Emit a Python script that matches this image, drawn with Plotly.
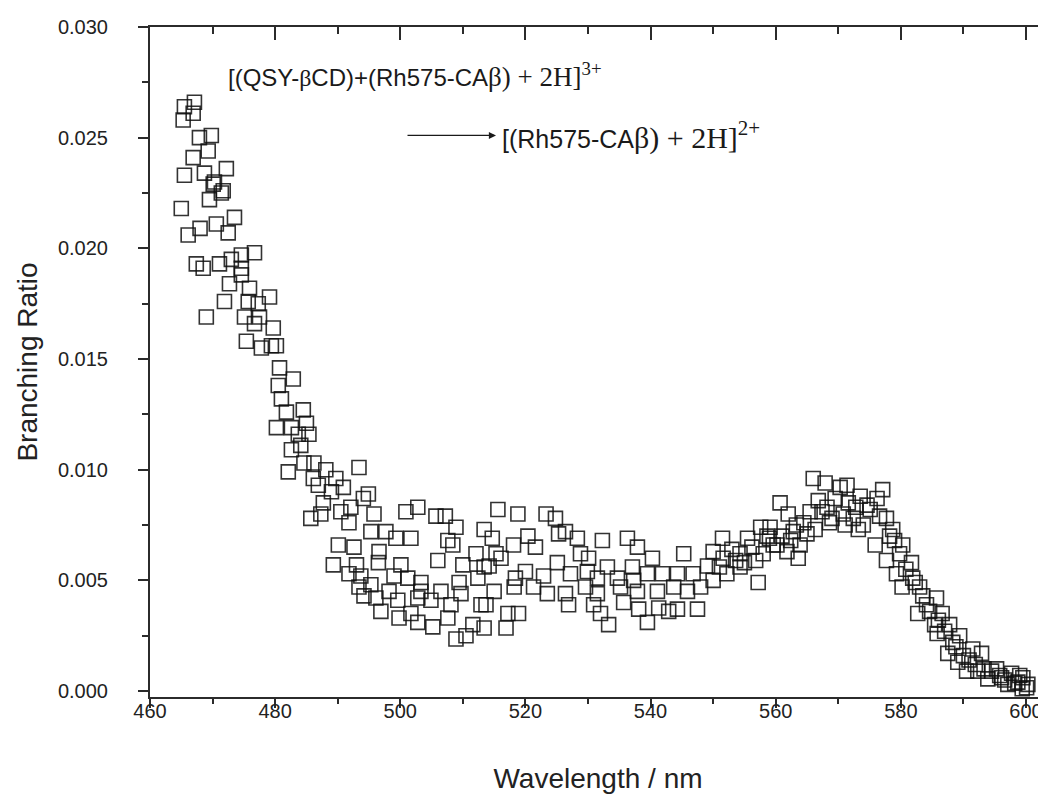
import plotly.graph_objects as go

# wavelength (nm) and branching ratio
wavelength = [
    465.0, 465.3, 465.5, 465.5, 466.1, 466.9, 466.9, 467.1, 467.4, 467.9,
    468.0, 468.5, 468.7, 469.0, 469.3, 469.5, 469.8, 470.1, 470.3, 470.6,
    471.1, 471.4, 471.7, 471.9, 472.2, 472.5, 472.7, 473.0, 473.5, 474.6,
    474.6, 474.6, 475.1, 475.4, 475.7, 475.9, 476.7, 476.7, 477.3, 477.5,
    477.8, 479.1, 479.4, 479.7, 480.2, 480.2, 480.5, 480.7, 481.0, 481.8,
    482.1, 482.6, 482.6, 482.9, 483.7, 484.1, 484.5, 484.6, 485.0, 485.4,
    485.7, 486.1, 486.2, 486.9, 487.3, 487.7, 488.1, 489.0, 489.3, 489.7,
    490.1, 490.5, 490.9, 491.8, 491.8, 492.1, 492.6, 493.0, 493.4, 493.4,
    493.7, 494.1, 494.2, 494.9, 495.3, 495.3, 495.8, 496.1, 496.5, 496.6,
    496.9, 497.7, 498.2, 499.0, 499.3, 499.6, 499.8, 500.1, 500.9, 501.2,
    501.7, 501.7, 502.8, 502.8, 502.8, 503.3, 503.3, 504.9, 505.2, 505.7,
    506.0, 506.5, 507.2, 507.6, 507.6, 508.1, 508.4, 508.9, 508.9, 509.4,
    509.7, 510.0, 510.5, 511.6, 512.1, 512.4, 512.9, 513.4, 513.4, 513.4,
    513.7, 514.2, 514.7, 515.0, 515.3, 515.6, 516.1, 516.9, 517.2, 518.1,
    518.2, 518.4, 518.8, 518.9, 520.0, 520.4, 521.3, 521.6, 522.9, 523.3,
    523.5, 524.8, 525.1, 525.3, 526.4, 526.4, 526.9, 527.2, 528.3, 528.8,
    529.6, 529.9, 530.1, 530.9, 531.5, 531.5, 532.0, 532.3, 533.1, 533.3,
    534.7, 535.2, 535.7, 536.3, 537.1, 537.3, 537.9, 537.9, 538.1, 539.5,
    539.5, 540.3, 541.1, 541.3, 541.9, 542.9, 543.7, 544.3, 544.3, 545.3,
    545.9, 546.8, 547.5, 548.0, 549.1, 550.0, 550.0, 551.0, 551.5, 551.6,
    552.2, 553.0, 553.6, 554.3, 554.3, 555.0, 555.5, 556.2, 556.8, 557.2,
    557.6, 558.0, 558.6, 559.0, 559.1, 559.6, 560.2, 560.7, 561.0, 561.8,
    562.0, 562.4, 562.8, 563.3, 563.6, 563.9, 564.5, 565.0, 565.5, 566.0,
    566.3, 566.8, 567.4, 567.9, 568.2, 568.6, 569.0, 569.5, 570.3, 570.8,
    571.1, 571.4, 571.6, 572.4, 572.8, 573.2, 573.5, 574.0, 574.6, 575.1,
    575.9, 576.2, 576.6, 577.1, 577.7, 577.7, 578.2, 578.7, 579.0, 579.3,
    579.8, 580.2, 580.3, 580.8, 581.7, 581.9, 582.3, 582.7, 583.0, 583.5,
    584.1, 584.6, 585.4, 585.7, 585.8, 586.0, 586.6, 587.0, 587.5, 587.8,
    588.3, 588.8, 589.1, 589.4, 590.0, 590.5, 590.9, 591.5, 591.9, 592.3,
    592.9, 593.3, 593.9, 594.5, 595.3, 595.8, 596.1, 596.6, 597.1, 597.7,
    598.2, 598.7, 599.0, 599.4, 599.5, 600.1, 600.3,
]
branching_ratio = [
    0.0218, 0.0258, 0.0264, 0.0233, 0.0206, 0.0261, 0.0241, 0.0266, 0.0193, 0.0250,
    0.0209, 0.0191, 0.0234, 0.0169, 0.0244, 0.0222, 0.0251, 0.0229, 0.0230, 0.0211,
    0.0193, 0.0225, 0.0226, 0.0176, 0.0236, 0.0207, 0.0184, 0.0195, 0.0214, 0.0197,
    0.0191, 0.0188, 0.0169, 0.0158, 0.0176, 0.0182, 0.0198, 0.0166, 0.0175, 0.0169,
    0.0155, 0.0178, 0.0156, 0.0164, 0.0156, 0.0119, 0.0138, 0.0146, 0.0132, 0.0126,
    0.0099, 0.0119, 0.0109, 0.0141, 0.0116, 0.0111, 0.0127, 0.0103, 0.0121, 0.0116,
    0.0078, 0.0096, 0.0103, 0.0093, 0.0080, 0.0085, 0.0100, 0.0090, 0.0057, 0.0096,
    0.0066, 0.0081, 0.0092, 0.0076, 0.0053, 0.0083, 0.0065, 0.0057, 0.0101, 0.0047,
    0.0052, 0.0087, 0.0043, 0.0089, 0.0072, 0.0048, 0.0080, 0.0042, 0.0058, 0.0063,
    0.0036, 0.0072, 0.0045, 0.0052, 0.0069, 0.0041, 0.0033, 0.0057, 0.0081, 0.0051,
    0.0069, 0.0035, 0.0083, 0.0042, 0.0031, 0.0049, 0.0045, 0.0041, 0.0029, 0.0079,
    0.0059, 0.0045, 0.0079, 0.0068, 0.0033, 0.0039, 0.0066, 0.0074, 0.00235, 0.0049,
    0.0044, 0.0057, 0.0025, 0.0030, 0.0062, 0.0051, 0.0039, 0.0073, 0.0056, 0.00285,
    0.0039, 0.00565, 0.0069, 0.0045, 0.0062, 0.0082, 0.0060, 0.00285, 0.0035, 0.0066,
    0.0047, 0.0051, 0.0080, 0.0035, 0.0054, 0.0070, 0.0047, 0.0065, 0.0052, 0.0080,
    0.0044, 0.0078, 0.0058, 0.0071, 0.0072, 0.0044, 0.0039, 0.0053, 0.0069, 0.0062,
    0.0047, 0.0054, 0.0060, 0.0039, 0.0051, 0.0044, 0.0035, 0.0068, 0.0056, 0.0030,
    0.0051, 0.0047, 0.0040, 0.0069, 0.0056, 0.0050, 0.0065, 0.0045, 0.0037, 0.0053,
    0.0031, 0.0060, 0.0045, 0.00375, 0.0053, 0.0036, 0.0047, 0.0053, 0.0037, 0.0062,
    0.0045, 0.0053, 0.0037, 0.0047, 0.00565, 0.0063, 0.0050, 0.0056, 0.0069, 0.0060,
    0.0053, 0.0064, 0.0059, 0.0062, 0.0056, 0.0058, 0.0069, 0.0065, 0.0059, 0.0049,
    0.0074, 0.0062, 0.0070, 0.0069, 0.0074, 0.0066, 0.0066, 0.0085, 0.0070, 0.0063,
    0.0080, 0.0068, 0.0072, 0.0075, 0.0060, 0.0066, 0.0076, 0.0071, 0.0081, 0.0096,
    0.0073, 0.0086, 0.0081, 0.0094, 0.0083, 0.0076, 0.0078, 0.0087, 0.0092, 0.0080,
    0.0075, 0.0093, 0.0085, 0.0078, 0.0083, 0.0073, 0.0088, 0.0075, 0.0084, 0.0082,
    0.0066, 0.0087, 0.0079, 0.0091, 0.0078, 0.0059, 0.0070, 0.0073, 0.0068, 0.0053,
    0.0062, 0.0047, 0.0066, 0.0055, 0.0058, 0.0051, 0.0049, 0.0035, 0.0047, 0.0043,
    0.0039, 0.0036, 0.0030, 0.0042, 0.0026, 0.0032, 0.0035, 0.0027, 0.0017, 0.0030,
    0.0022, 0.0020, 0.0013, 0.0025, 0.0016, 0.0009, 0.0014, 0.0019, 0.0012, 0.0009,
    0.0017, 0.0010, 0.00055, 0.0009, 0.0010, 0.0007, 0.0006, 0.0005, 0.0003, 0.0008,
    0.00035, 0.0004, 0.0007, 0.0001, 0.0006, 0.00015, 0.0003,
]

x_ticks = [460, 480, 500, 520, 540, 560, 580, 600]
y_ticks = [0.000, 0.005, 0.010, 0.015, 0.020, 0.025, 0.030]

axis_color = '#2b2b2b'
tick_font = dict(family='Liberation Sans, Arial, sans-serif', size=20, color='#222222')
serif = "font-family:'Liberation Serif','Times New Roman',serif"

fig = go.Figure()

fig.add_trace(go.Scatter(
    x=wavelength, y=branching_ratio,
    mode='markers',
    marker=dict(symbol='square-open', size=14, color='rgba(15,15,15,0.85)',
                line=dict(width=1.6)),
    showlegend=False,
))

# empty trace so the mirrored top/right axes get drawn
fig.add_trace(go.Scatter(x=[None], y=[None], xaxis='x2', yaxis='y2', showlegend=False))

# page body adds ~8px offset, margins compensate for it
fig.update_layout(
    width=1046, height=796,
    margin=dict(l=142, r=8, t=19, b=107),
    plot_bgcolor='white', paper_bgcolor='white',
    font=dict(family='Liberation Sans, Arial, sans-serif', color='#222222'),
    xaxis=dict(
        range=[460, 603.2], tickvals=x_ticks, ticks='outside', ticklen=9, tickwidth=2,
        tickcolor=axis_color, showline=True, linewidth=2, linecolor=axis_color,
        showgrid=False, zeroline=False, tickfont=tick_font, automargin=False,
        ticklabelstandoff=-14,
        minor=dict(dtick=10, tick0=460, ticks='outside', ticklen=5, tickwidth=2, tickcolor=axis_color),
        title=dict(text='Wavelength / nm', font=dict(size=28, color='#222222'), standoff=47),
    ),
    yaxis=dict(
        range=[-0.00027, 0.030], tickvals=y_ticks, tickformat='.3f', ticks='outside', ticklen=10,
        tickwidth=2, tickcolor=axis_color, showline=True, linewidth=2, linecolor=axis_color,
        showgrid=False, zeroline=False, tickfont=tick_font, ticklabelstandoff=26,
        automargin=False,
        minor=dict(dtick=0.0025, tick0=0, ticks='outside', ticklen=6, tickwidth=2, tickcolor=axis_color),
        title=dict(text='Branching Ratio', font=dict(size=28, color='#222222'), standoff=12),
    ),
    xaxis2=dict(
        overlaying='x', side='top', anchor='y2', range=[460, 603.2], tickvals=x_ticks,
        ticks='inside', ticklen=13, tickwidth=2, tickcolor=axis_color, showticklabels=False,
        showline=True, linewidth=2, linecolor=axis_color, showgrid=False, zeroline=False,
        automargin=False,
        minor=dict(dtick=10, tick0=460, ticks='inside', ticklen=7, tickwidth=2, tickcolor=axis_color),
    ),
    yaxis2=dict(
        overlaying='y', side='right', anchor='x2', range=[-0.00027, 0.030], tickvals=y_ticks,
        ticks='inside', ticklen=4, tickwidth=2, tickcolor=axis_color, showticklabels=False,
        showline=False, showgrid=False, zeroline=False, automargin=False,
    ),
)

# reaction label
line1 = ("[(QSY-<span style=\"" + serif + "\">β</span>CD)+(Rh575-CA"
         "<span style=\"" + serif + ";font-size:27px\">β) + 2H]<sup>3+</sup></span>")
line2 = ("[(Rh575-CA"
         "<span style=\"" + serif + ";font-size:30px\">β) + 2H]<sup>2+</sup></span>")

fig.add_annotation(xref='paper', yref='paper', x=0.085, y=0.928, text=line1,
                   showarrow=False, xanchor='left', yanchor='middle',
                   font=dict(size=24, color='#1a1a1a'))
fig.add_annotation(xref='paper', yref='paper', x=0.391, y=0.838, text=line2,
                   showarrow=False, xanchor='left', yanchor='middle',
                   font=dict(size=25, color='#1a1a1a'))
fig.add_annotation(x=515.3, y=0.0251, xref='x', yref='y', ax=-90, ay=0, text='',
                   showarrow=True, arrowhead=2, arrowsize=1.1, arrowwidth=1.3,
                   arrowcolor='#1a1a1a')

fig.write_html("out.html")
